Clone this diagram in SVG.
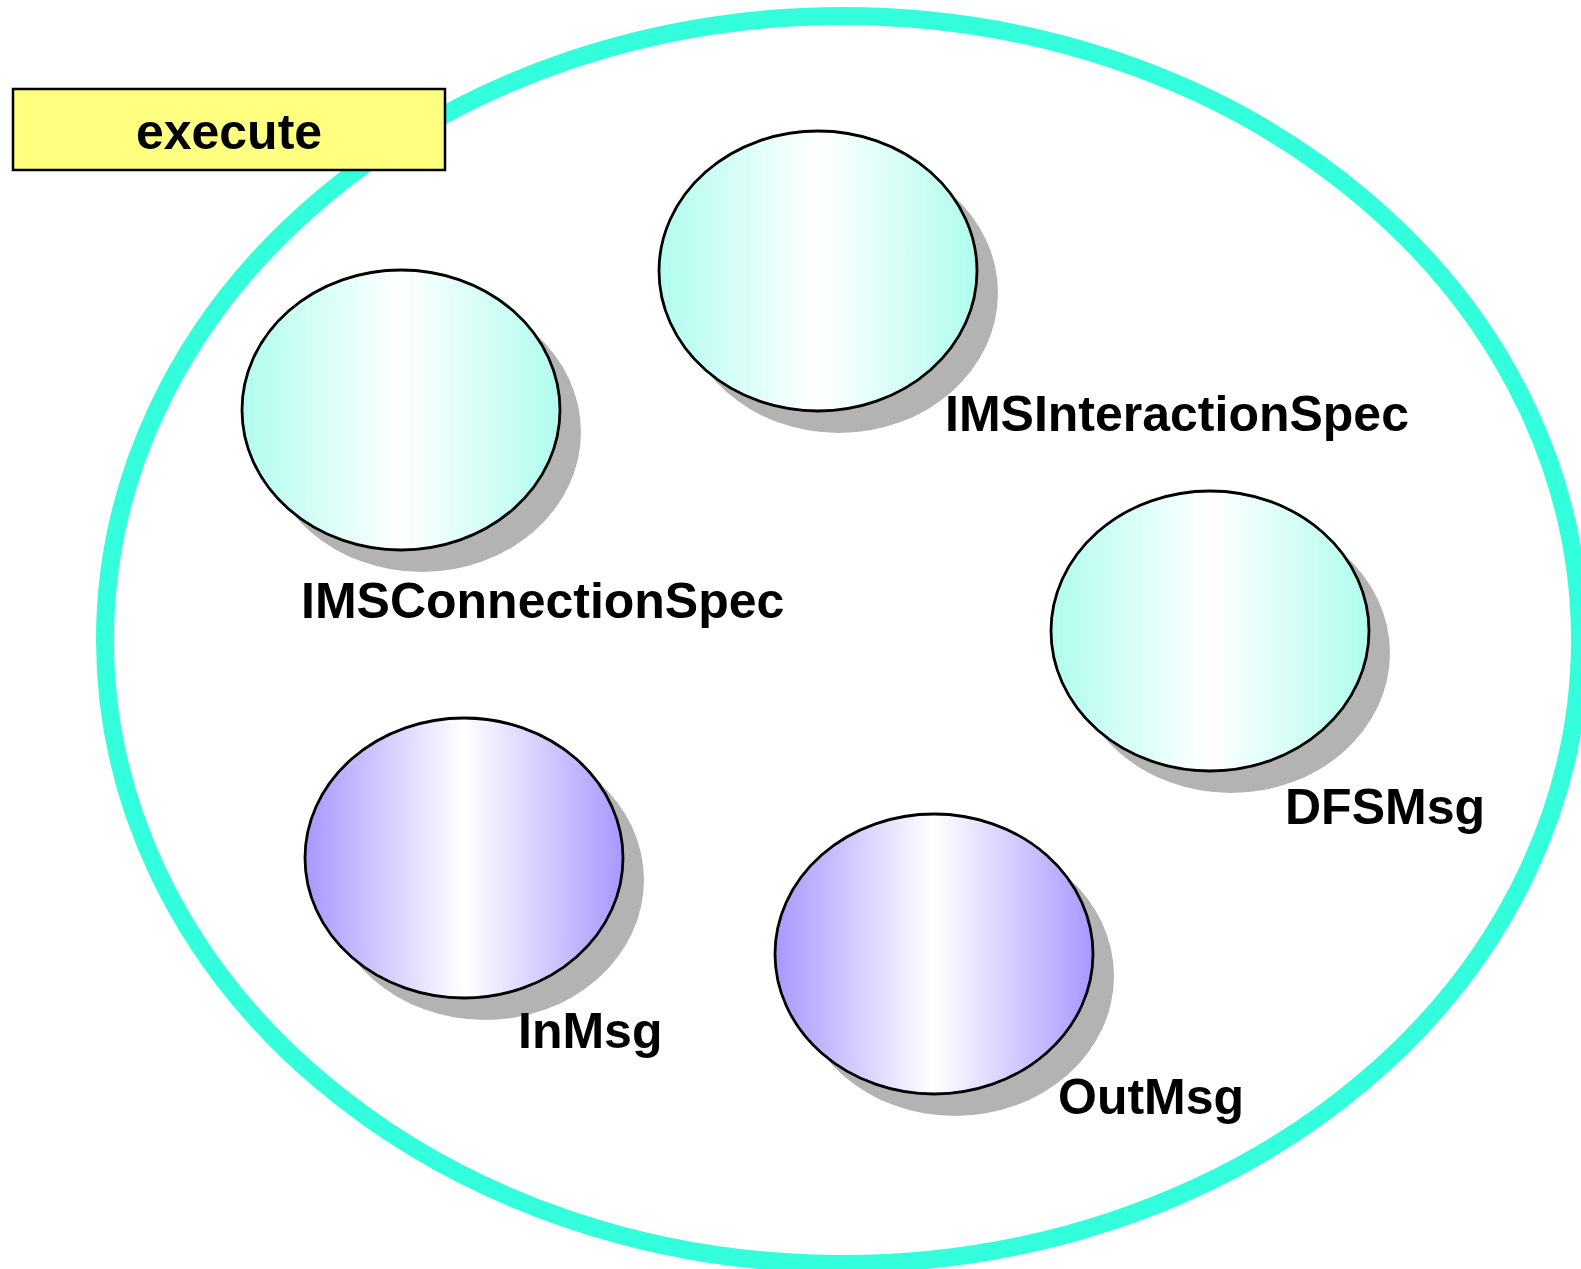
<svg xmlns="http://www.w3.org/2000/svg" width="1581" height="1269" viewBox="0 0 1581 1269">
  <style>
    .lbl { font-family: "Liberation Sans", Arial, sans-serif; font-weight: bold; font-size: 50px; fill: #000; }
    .shadow { fill: #b3b3b3; stroke: none; }
    .obj { stroke: #000; stroke-width: 2.8; }
    .cyan { fill: url(#gCyan); }
    .violet { fill: url(#gViolet); }
  </style>
  <defs>
    <linearGradient id="gCyan" x1="0" y1="0" x2="1" y2="0">
      <stop offset="0" stop-color="#b0fcee"/>
      <stop offset="0.5" stop-color="#ffffff"/>
      <stop offset="1" stop-color="#b0fcee"/>
    </linearGradient>
    <linearGradient id="gViolet" x1="0" y1="0" x2="1" y2="0">
      <stop offset="0" stop-color="#a898ff"/>
      <stop offset="0.5" stop-color="#ffffff"/>
      <stop offset="1" stop-color="#a898ff"/>
    </linearGradient>
  </defs>
  <rect x="0" y="0" width="1581" height="1269" fill="#ffffff"/>

  <g id="container">
    <ellipse cx="842.5" cy="640" rx="737.5" ry="624" fill="none" stroke="#33ffdd" stroke-width="18"/>
  </g>

  <g id="execute">
    <rect x="13" y="89" width="432" height="81" fill="#ffff80" stroke="#000" stroke-width="2.5"/>
    <text class="lbl" x="229" y="149" text-anchor="middle">execute</text>
  </g>

  <g id="IMSInteractionSpec">
    <ellipse class="shadow" cx="839" cy="293" rx="159" ry="140"/>
    <ellipse class="obj cyan" cx="818" cy="271" rx="159" ry="140"/>
    <text class="lbl" x="945" y="431">IMSInteractionSpec</text>
  </g>

  <g id="IMSConnectionSpec">
    <ellipse class="shadow" cx="422" cy="432" rx="159" ry="140"/>
    <ellipse class="obj cyan" cx="401" cy="410" rx="159" ry="140"/>
    <text class="lbl" x="301" y="618">IMSConnectionSpec</text>
  </g>

  <g id="DFSMsg">
    <ellipse class="shadow" cx="1231" cy="653" rx="159" ry="140"/>
    <ellipse class="obj cyan" cx="1210" cy="631" rx="159" ry="140"/>
    <text class="lbl" x="1285" y="824">DFSMsg</text>
  </g>

  <g id="InMsg">
    <ellipse class="shadow" cx="485" cy="880" rx="159" ry="140"/>
    <ellipse class="obj violet" cx="464" cy="858" rx="159" ry="140"/>
    <text class="lbl" x="518" y="1048">InMsg</text>
  </g>

  <g id="OutMsg">
    <ellipse class="shadow" cx="955" cy="976" rx="159" ry="140"/>
    <ellipse class="obj violet" cx="934" cy="954" rx="159" ry="140"/>
    <text class="lbl" x="1058" y="1114">OutMsg</text>
  </g>

  <g id="connectors"></g>
</svg>
